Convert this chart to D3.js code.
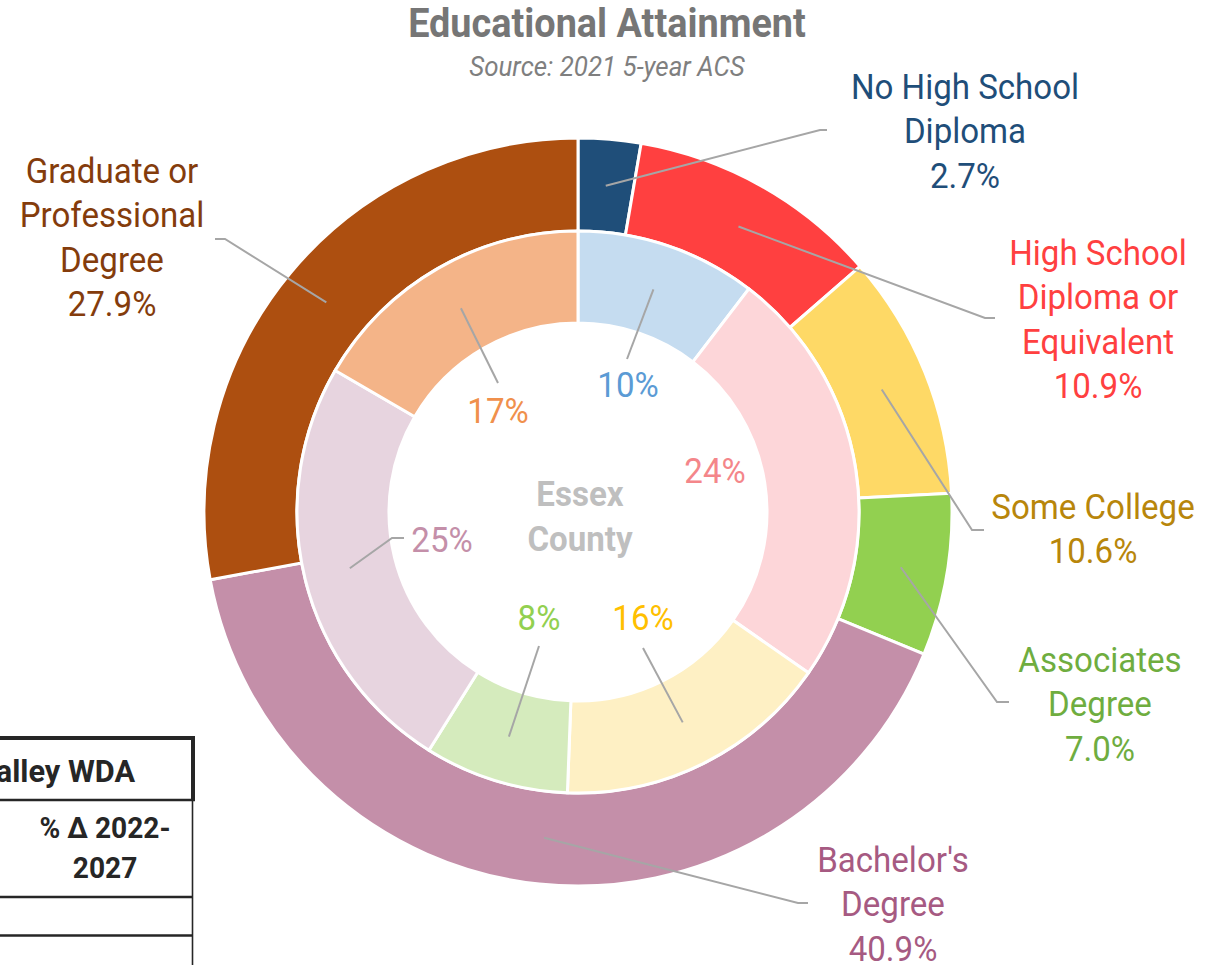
<!DOCTYPE html>
<html>
<head>
<meta charset="utf-8">
<script src="https://cdn.jsdelivr.net/npm/d3@7"></script>
<style>
  html, body { margin: 0; padding: 0; background: #fff; }
  svg { display: block; font-family: Roboto, "Noto Sans", sans-serif; }
</style>
</head>
<body>
<div id="chart"></div>
<script>
// Educational attainment: Essex County (inner ring) vs. outer comparison ring.
const outerCategories = ["No High School Diploma", "High School Diploma or Equivalent", "Some College",
  "Associates Degree", "Bachelor's Degree", "Graduate or Professional Degree"];
const outerValues = [2.7, 10.9, 10.6, 7.0, 40.9, 27.9];
const outerLabelLines = [
  ["No High School", "Diploma", "2.7%"],
  ["High School", "Diploma or", "Equivalent", "10.9%"],
  ["Some College", "10.6%"],
  ["Associates", "Degree", "7.0%"],
  ["Bachelor's", "Degree", "40.9%"],
  ["Graduate or", "Professional", "Degree", "27.9%"]
];
// Essex County shares (unrounded) and their printed labels
const innerValues = [10.4, 24.3, 15.9, 8.3, 24.5, 16.6];
const innerLabels = ["10%", "24%", "16%", "8%", "25%", "17%"];

const outerFill = ["#1f4e79", "#ff4040", "#fed966", "#92d050", "#c48fa9", "#ad4f10"];
const outerText = ["#1f4e79", "#ff4040", "#b8860b", "#6fad3f", "#a65a82", "#843c0c"];
const innerFill = ["#c5dcf0", "#fdd6d9", "#fef0c4", "#d5ebbd", "#e7d4df", "#f4b488"];
const innerText = ["#5b9bd5", "#f4868a", "#ffc000", "#92d050", "#c48fa9", "#f0904c"];

// hand-placed label anchors (centre x, first baseline) and leader ends, like the source chart
const outerPlace = [
  { x: 965, y: 99, elbow: [820, 130], end: [827, 130] },
  { x: 1098, y: 265, elbow: [985, 318], end: [995, 318] },
  { x: 1093, y: 519, elbow: [972, 530], end: [984, 530] },
  { x: 1100, y: 672, elbow: [997, 702], end: [1009, 702] },
  { x: 893, y: 872, elbow: [798, 903], end: [808, 903] },
  { x: 112, y: 183, elbow: [225, 239], end: [215, 239] }
];
const innerPlace = [
  { x: 628, y: 397, end: [[627, 359]] },
  { x: 715, y: 483, end: null },
  { x: 643, y: 630, end: [[643, 648]] },
  { x: 539, y: 630, end: [[539, 646]] },
  { x: 442, y: 552, end: [[392, 538], [404, 538]] },
  { x: 498, y: 423, end: [[498, 383]] }
];

const width = 1220, height = 965;
const cx = 578, cy = 512;
const rOuter = 374, rMid = 281, rInner = 189;
const lineGap = 44.5;

const svg = d3.select("#chart").append("svg")
  .attr("width", width).attr("height", height);

function addText(g, x, y, lines, o) {
  const k = o.k || 0.945;
  const t = g.append("text")
    .attr("transform", `translate(${x},${y}) scale(${k},1)`)
    .attr("text-anchor", o.anchor || "middle")
    .attr("font-size", o.size)
    .attr("font-weight", o.weight || 400)
    .attr("font-style", o.style || "normal")
    .attr("fill", o.color);
  lines.forEach((s, i) => t.append("tspan").attr("x", 0).attr("y", i * (o.gap || lineGap)).text(s));
  return t;
}

// title block
addText(svg, 607, 37, ["Educational Attainment"], { size: 40, weight: 700, color: "#767676", k: 0.946 });
addText(svg, 607, 76, ["Source: 2021 5-year ACS"], { size: 28, style: "italic", color: "#7f7f7f", k: 0.926 });

const pie = d3.pie().sort(null).value(d => d);
const outerArcs = pie(outerValues);
const innerArcs = pie(innerValues);
const outerArc = d3.arc().innerRadius(rMid).outerRadius(rOuter);
const innerArc = d3.arc().innerRadius(rInner).outerRadius(rMid);
const outerMid = d3.arc().innerRadius((rMid + rOuter) / 2).outerRadius((rMid + rOuter) / 2);
const innerMid = d3.arc().innerRadius((rInner + rMid) / 2).outerRadius((rInner + rMid) / 2);

const donut = svg.append("g").attr("transform", `translate(${cx},${cy})`);

donut.selectAll("path.outer").data(outerArcs).join("path")
  .attr("class", "outer")
  .attr("d", outerArc)
  .attr("fill", (d, i) => outerFill[i])
  .attr("stroke", "#fff").attr("stroke-width", 3);

donut.selectAll("path.inner").data(innerArcs).join("path")
  .attr("class", "inner")
  .attr("d", innerArc)
  .attr("fill", (d, i) => innerFill[i])
  .attr("stroke", "#fff").attr("stroke-width", 3);

// leader lines: start at the slice centroid, end next to the label
const leaders = svg.append("g").attr("fill", "none").attr("stroke", "#a6a6a6").attr("stroke-width", 2);
const line = d3.line();

outerArcs.forEach((a, i) => {
  const c = outerMid.centroid(a);
  const p = outerPlace[i];
  leaders.append("path").attr("d", line([[cx + c[0], cy + c[1]], p.elbow, p.end]));
});
innerArcs.forEach((a, i) => {
  const p = innerPlace[i];
  if (!p.end) return;
  const c = innerMid.centroid(a);
  leaders.append("path").attr("d", line([[cx + c[0], cy + c[1]], ...p.end]));
});

// labels
const labels = svg.append("g");
outerPlace.forEach((p, i) => addText(labels, p.x, p.y, outerLabelLines[i], { size: 35, color: outerText[i] }));
innerPlace.forEach((p, i) => addText(labels, p.x, p.y, [innerLabels[i]], { size: 35, color: innerText[i] }));

addText(svg, 580, 506, ["Essex", "County"], { size: 35, weight: 700, color: "#bfbfbf", gap: 45 });

// fragment of the neighbouring table, cut off by the page edge
const tbl = svg.append("g").attr("stroke", "#262626");
tbl.append("line").attr("x1", 0).attr("x2", 195).attr("y1", 738).attr("y2", 738).attr("stroke-width", 4);
tbl.append("line").attr("x1", 193).attr("x2", 193).attr("y1", 736).attr("y2", 801).attr("stroke-width", 4);
tbl.append("line").attr("x1", 0).attr("x2", 195).attr("y1", 800).attr("y2", 800).attr("stroke-width", 2.5);
tbl.append("line").attr("x1", 192.5).attr("x2", 192.5).attr("y1", 800).attr("y2", 965).attr("stroke-width", 1.6);
tbl.append("line").attr("x1", 0).attr("x2", 193).attr("y1", 897).attr("y2", 897).attr("stroke-width", 2.5);
tbl.append("line").attr("x1", 0).attr("x2", 193).attr("y1", 935.5).attr("y2", 935.5).attr("stroke-width", 2.5);

addText(svg, 135, 782, ["Valley WDA"], { size: 31, weight: 700, color: "#262626", anchor: "end", k: 0.99 });
addText(svg, 105, 838, ["% Δ 2022-", "2027"], { size: 29, weight: 700, color: "#262626", gap: 40, k: 0.97 });
</script>
</body>
</html>
